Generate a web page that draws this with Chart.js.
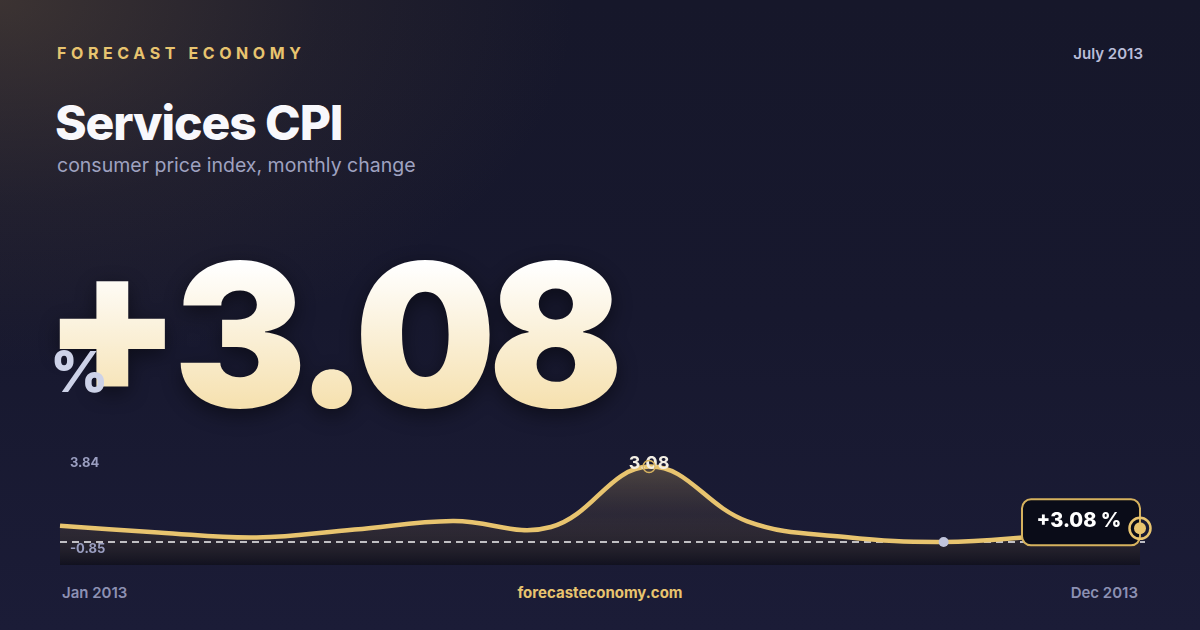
<!DOCTYPE html>
<html>
<head>
<meta charset="utf-8">
<script src="https://cdn.jsdelivr.net/npm/chart.js@4.4.1/dist/chart.umd.min.js"></script>
<style>
  html, body { margin: 0; padding: 0; }
  body {
    width: 1200px; height: 630px; overflow: hidden; position: relative;
    font-family: Inter, "Noto Sans", sans-serif;
    background:
      radial-gradient(ellipse 720px 460px at 0% 0%, rgba(112,90,62,0.42), rgba(112,90,62,0.12) 45%, rgba(0,0,0,0) 80%),
      linear-gradient(180deg, #16172a 0%, #17182e 50%, #1b1c37 100%);
  }
  .abs { position: absolute; white-space: nowrap; line-height: 1; }
  #brand { left: 57px; top: 45px; font-size: 16px; font-weight: 700; letter-spacing: 4.6px; color: #e8c46f; }
  #date { right: 57px; top: 46px; font-size: 15px; font-weight: 600; color: #b9bdd8; }
  #title { left: 55px; top: 99px; font-size: 48px; font-weight: 800; color: #f8f8fc; letter-spacing: -1.1px; }
  #subtitle { left: 57px; top: 156px; font-size: 19.5px; font-weight: 400; color: #9fa2c0; }
  #big { left: 43px; top: 234px; padding-right: 40px; font-size: 200px; font-weight: 900; letter-spacing: -8.5px;
         background: linear-gradient(180deg, #ffffff 15%, #f4dba0 100%);
         -webkit-background-clip: text; background-clip: text; color: transparent;
         filter: drop-shadow(0 6px 10px rgba(0,0,0,0.45)); }
  #big .plus { vertical-align: 14px; line-height: 0; }
  #pct { left: 50px; top: 343px; font-size: 57px; font-weight: 800; color: #cdd2e8; }
  #foot-l { left: 62px; top: 585px; font-size: 15px; font-weight: 600; color: #8d91b3; }
  #foot-c { left: 600px; top: 585px; transform: translateX(-50%); font-size: 15px; font-weight: 700; color: #e8c46f; }
  #foot-r { right: 62px; top: 585px; font-size: 15px; font-weight: 600; color: #8d91b3; }
  canvas { position: absolute; left: 0; top: 0; }
</style>
</head>
<body>
<div class="abs" id="brand">FORECAST ECONOMY</div>
<div class="abs" id="date">July 2013</div>
<div class="abs" id="title">Services CPI</div>
<div class="abs" id="subtitle">consumer price index, monthly change</div>
<div class="abs" id="big"><span class="plus">+</span>3.08</div>
<div class="abs" id="pct">%</div>
<div class="abs" id="foot-l">Jan 2013</div>
<div class="abs" id="foot-c">forecasteconomy.com</div>
<div class="abs" id="foot-r">Dec 2013</div>
<canvas id="c" width="1200" height="630"></canvas>
<script>
// ---- data ----
const months = ['Jan 2013','Feb 2013','Mar 2013','Apr 2013','May 2013','Jun 2013','Jul 2013','Aug 2013','Sep 2013','Oct 2013','Nov 2013','Dec 2013'];
const cpi = [0.00, -0.35, -0.62, -0.20, 0.24, -0.07, 3.08, 0.23, -0.59, -0.85, -0.54, -0.14];
const yTickLabels = ['3.84', '-0.85'];
const yMaxValue = 3.84;
const yRefValue = -0.85;
const yAxisMin = -2.05;
const peakIndex = 6;
const minIndex = 9;
const lastIndex = 11;
const badgeText = '+3.08 %';
const peakText = '3.08';

const GOLD = '#e8c46f';

const overlay = {
  id: 'overlay',
  // runs after the built-in filler has painted the area, before the line itself
  beforeDatasetDraw(chart) {
    const { ctx, chartArea, scales } = chart;
    const y = scales.y.getPixelForValue(yRefValue);
    ctx.save();
    ctx.strokeStyle = 'rgba(255,255,255,0.95)';
    ctx.lineWidth = 1.5;
    ctx.setLineDash([7, 5]);
    ctx.beginPath();
    ctx.moveTo(chartArea.left, y);
    ctx.lineTo(chartArea.right + 5, y);
    ctx.stroke();
    ctx.restore();
  },
  afterDatasetsDraw(chart) {
    const { ctx, scales } = chart;
    const meta = chart.getDatasetMeta(0);
    ctx.save();
    // y labels
    ctx.font = '700 13px Inter, sans-serif';
    ctx.fillStyle = '#9a9ec0';
    ctx.textAlign = 'left';
    ctx.textBaseline = 'alphabetic';
    ctx.fillText(yTickLabels[0], 70, scales.y.getPixelForValue(yMaxValue) + 14.5);
    ctx.fillText(yTickLabels[1], 70, scales.y.getPixelForValue(yRefValue) + 11);

    // peak label + ring
    const pk = meta.data[peakIndex];
    ctx.font = '700 18px Inter, sans-serif';
    ctx.fillStyle = '#f3efe4';
    ctx.textAlign = 'center';
    ctx.fillText(peakText, pk.x, pk.y + 2.5);
    ctx.strokeStyle = '#d9b460';
    ctx.lineWidth = 1.5;
    ctx.beginPath();
    ctx.arc(pk.x, pk.y, 6, 0, Math.PI * 2);
    ctx.stroke();

    // min dot
    const mn = meta.data[minIndex];
    ctx.fillStyle = '#c0c4dc';
    ctx.beginPath();
    ctx.arc(mn.x, mn.y, 5, 0, Math.PI * 2);
    ctx.fill();

    // badge
    const ls = meta.data[lastIndex];
    const bw = 118, bh = 46, br = 9;
    const bx = ls.x - bw, by = ls.y - 29;
    ctx.beginPath();
    ctx.roundRect(bx, by, bw, bh, br);
    ctx.fillStyle = '#0a0c18';
    ctx.fill();
    ctx.strokeStyle = '#d6b25e';
    ctx.lineWidth = 2;
    ctx.stroke();
    ctx.font = '800 20px Inter, sans-serif';
    ctx.fillStyle = '#ffffff';
    ctx.textAlign = 'center';
    ctx.fillText(badgeText, bx + 57, by + 28);

    // end marker
    ctx.strokeStyle = GOLD;
    ctx.lineWidth = 2.5;
    ctx.beginPath();
    ctx.arc(ls.x, ls.y, 10.5, 0, Math.PI * 2);
    ctx.stroke();
    ctx.fillStyle = GOLD;
    ctx.beginPath();
    ctx.arc(ls.x, ls.y, 6, 0, Math.PI * 2);
    ctx.fill();
    ctx.restore();
  }
};

new Chart(document.getElementById('c'), {
  type: 'line',
  data: {
    labels: months,
    datasets: [{
      data: cpi,
      borderColor: GOLD,
      borderWidth: 4.5,
      tension: 0.4,
      pointRadius: 0,
      clip: false,
      fill: 'start',
      backgroundColor(context) {
        const { ctx, chartArea } = context.chart;
        if (!chartArea) return 'rgba(0,0,0,0)';
        const g = ctx.createLinearGradient(0, chartArea.top, 0, chartArea.bottom);
        g.addColorStop(0, 'rgba(232,196,111,0.32)');
        g.addColorStop(0.55, 'rgba(130,105,70,0.18)');
        g.addColorStop(1, 'rgba(10,10,14,0.55)');
        return g;
      }
    }]
  },
  options: {
    responsive: false,
    animation: false,
    devicePixelRatio: 1,
    layout: { padding: { left: 60, right: 60, top: 452, bottom: 65 } },
    plugins: { legend: { display: false }, tooltip: { enabled: false } },
    scales: {
      x: { display: false, offset: false },
      y: { display: false, min: yAxisMin, max: yMaxValue }
    }
  },
  plugins: [overlay]
});
</script>
</body>
</html>
